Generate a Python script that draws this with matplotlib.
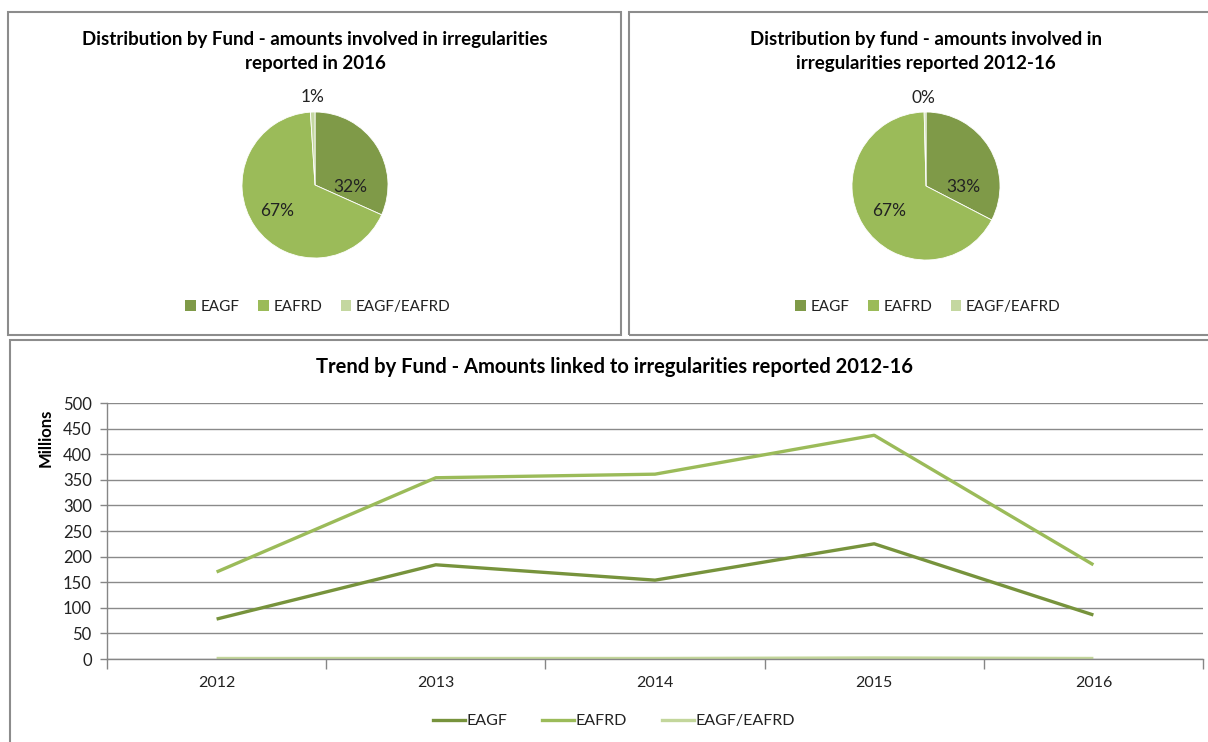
import matplotlib
matplotlib.use("Agg")
import matplotlib.pyplot as plt
from matplotlib.patches import Rectangle
from matplotlib.lines import Line2D
from matplotlib.patches import Patch

plt.rcParams['font.family'] = ['Lato', 'DejaVu Sans']

funds = ["EAGF", "EAFRD", "EAGF/EAFRD"]
pie_2016 = [31.7, 67.3, 1.0]
pie_2012_16 = [32.6, 67.0, 0.4]
years = ["2012", "2013", "2014", "2015", "2016"]
eagf = [78, 184, 154, 225, 86]
eafrd = [170, 354, 361, 437, 184]
eagf_eafrd = [1, 1, 1, 2, 1]

pie_colors = ["#7F9A48", "#9BBB59", "#C4D7A0"]
line_colors = ["#77933C", "#9BBB59", "#C3D69B"]
text_col = "#222222"

W, H = 1208, 742
fig = plt.figure(figsize=(W / 100, H / 100), dpi=100)

def fx(x):
    return x / W

def fy(y):
    return 1 - y / H

# panel borders
for (x0, y0, x1, y1) in [(8, 12, 621, 335), (629, 12, 1215, 335), (10, 340, 1215, 750)]:
    fig.patches.append(Rectangle((fx(x0), fy(y1)), fx(x1 - x0), (y1 - y0) / H,
                                 transform=fig.transFigure, fill=False,
                                 edgecolor="#8c8c8c", linewidth=1.5))

def draw_pie(cx, cy, r, vals, title, lab_pos, leg_cx):
    ax = fig.add_axes([fx(cx - r * 1.6), fy(cy + r * 1.6), fx(3.2 * r), 3.2 * r / H])
    wedges, _ = ax.pie(vals, colors=pie_colors, startangle=90, counterclock=False,
                       wedgeprops=dict(linewidth=0.6, edgecolor="white"))
    ax.set_xlim(-1.6, 1.6)
    ax.set_ylim(-1.6, 1.6)
    ax.set_aspect('equal')
    ax.axis('off')
    for v, (px, py) in zip(vals, lab_pos):
        ax.text(px, py, f"{round(v):.0f}%", ha='center', va='center', fontsize=12.5, color=text_col)
    fig.text(fx(cx), fy(40), title.split("\n")[0], ha='center', va='center', fontsize=13.5,
             fontweight='bold', color='black')
    fig.text(fx(cx), fy(63), title.split("\n")[1], ha='center', va='center', fontsize=13.5,
             fontweight='bold', color='black')
    handles = [Patch(facecolor=c, edgecolor='none') for c in pie_colors]
    fig.legend(handles, funds, loc='center', bbox_to_anchor=(fx(leg_cx), fy(307)),
               ncol=3, frameon=False, fontsize=11, handlelength=0.7, handleheight=0.7,
               handletextpad=0.3, columnspacing=1.2, labelcolor=text_col)

draw_pie(315, 185, 73, pie_2016,
         "Distribution by Fund - amounts involved in irregularities\nreported in 2016",
         [(0.48, -0.03), (-0.52, -0.36), (-0.03, 1.21)], 318)
draw_pie(926, 186, 74, pie_2012_16,
         "Distribution by fund - amounts involved in\nirregularities reported 2012-16",
         [(0.5, -0.01), (-0.5, -0.34), (-0.04, 1.19)], 928)

# line chart
left, right, top, bottom = 107, 1203, 403, 659
ax = fig.add_axes([fx(left), fy(bottom), fx(right - left), (bottom - top) / H])
x = list(range(len(years)))
for vals, c, name in zip([eagf, eafrd, eagf_eafrd], line_colors, funds):
    ax.plot(x, vals, color=c, linewidth=2.4, label=name, solid_capstyle='butt')
ax.set_xlim(-0.5, len(years) - 0.5)
ax.set_ylim(0, 500)
ax.set_yticks(range(0, 501, 50))
ax.set_xticks(x)
ax.set_xticklabels(years)
ax.set_xticks([i - 0.5 for i in range(len(years) + 1)], minor=True)
ax.tick_params(axis='x', which='major', length=0, pad=12, labelsize=11.5, labelcolor=text_col)
ax.tick_params(axis='x', which='minor', length=7, color="#868686", width=1)
ax.tick_params(axis='y', length=5, color="#868686", width=1, labelsize=12, labelcolor=text_col, pad=6)
ax.grid(axis='y', color="#8a8a8a", linewidth=1)
ax.set_axisbelow(True)
for s in ['top', 'right']:
    ax.spines[s].set_visible(False)
for s in ['left', 'bottom']:
    ax.spines[s].set_color("#868686")
    ax.spines[s].set_linewidth(1)
fig.text(fx(46), fy(438), "Millions", rotation=90, ha='center', va='center',
         fontsize=12, fontweight='bold', color='black')
fig.text(fx(615), fy(367), "Trend by Fund - Amounts linked to irregularities reported 2012-16",
         ha='center', va='center', fontsize=14.5, fontweight='bold', color='black')
handles = [Line2D([0], [0], color=c, linewidth=2.4) for c in line_colors]
fig.legend(handles, funds, loc='center', bbox_to_anchor=(fx(614), fy(721)), ncol=3,
           frameon=False, fontsize=11.5, handlelength=2.0, handletextpad=0.1,
           columnspacing=2.2, labelcolor=text_col)

fig.savefig("out.png", dpi=100)
